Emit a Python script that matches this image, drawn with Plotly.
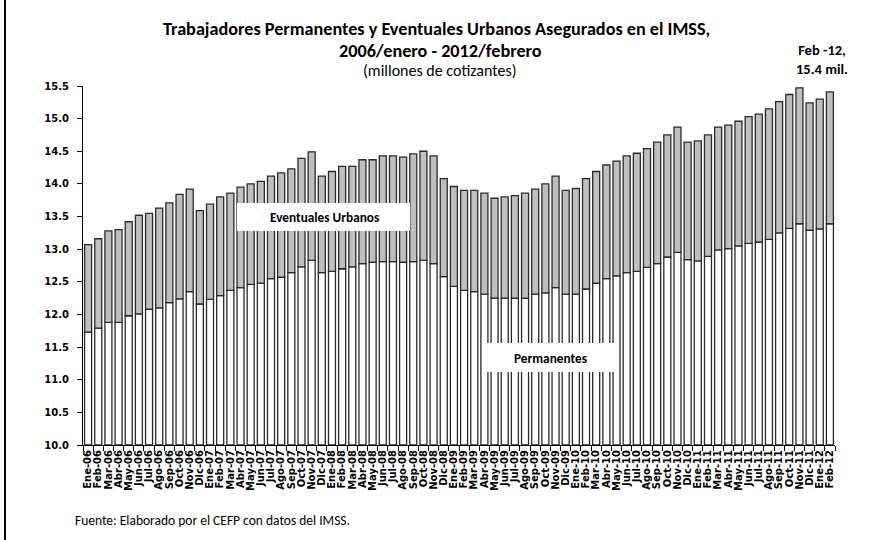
import plotly.graph_objects as go

months = ["Ene", "Feb", "Mar", "Abr", "May", "Jun", "Jul", "Ago", "Sep", "Oct", "Nov", "Dic"]
categories = []
for yr in range(6, 13):
    for m in months:
        categories.append(f"{m}-{yr:02d}")
categories = categories[:74]  # Ene-06 .. Feb-12

total = [13.07, 13.16, 13.28, 13.30, 13.42, 13.52, 13.55, 13.63, 13.71, 13.84, 13.92, 13.59,
         13.69, 13.80, 13.86, 13.95, 14.00, 14.04, 14.12, 14.17, 14.23, 14.39, 14.49, 14.12,
         14.19, 14.27, 14.27, 14.37, 14.37, 14.43, 14.43, 14.41, 14.46, 14.50, 14.43, 14.08,
         13.96, 13.90, 13.90, 13.86, 13.78, 13.80, 13.82, 13.86, 13.92, 14.00, 14.12, 13.90,
         13.93, 14.08, 14.19, 14.29, 14.35, 14.43, 14.47, 14.54, 14.64, 14.75, 14.87, 14.64,
         14.66, 14.75, 14.87, 14.90, 14.96, 15.03, 15.07, 15.15, 15.26, 15.37, 15.47, 15.24,
         15.30, 15.41]

permanentes = [11.73, 11.79, 11.88, 11.88, 11.98, 12.01, 12.08, 12.10, 12.18, 12.24, 12.35, 12.16,
               12.23, 12.29, 12.37, 12.41, 12.46, 12.48, 12.55, 12.57, 12.64, 12.73, 12.83, 12.64,
               12.66, 12.70, 12.73, 12.78, 12.80, 12.81, 12.81, 12.80, 12.81, 12.83, 12.78, 12.58,
               12.43, 12.37, 12.35, 12.31, 12.25, 12.25, 12.25, 12.25, 12.31, 12.33, 12.41, 12.31,
               12.31, 12.39, 12.48, 12.55, 12.59, 12.64, 12.66, 12.72, 12.78, 12.88, 12.95, 12.84,
               12.82, 12.89, 12.99, 13.01, 13.05, 13.09, 13.11, 13.15, 13.25, 13.32, 13.39, 13.29,
               13.31, 13.39]

eventuales = [round(t - p, 2) for t, p in zip(total, permanentes)]
base = 10.0
perm_height = [round(p - base, 2) for p in permanentes]

y_ticks = [10.0, 10.5, 11.0, 11.5, 12.0, 12.5, 13.0, 13.5, 14.0, 14.5, 15.0, 15.5]

FONT = "Carlito, Lato, Liberation Sans, Arial, sans-serif"
AXFONT = "DejaVu Sans, Verdana, sans-serif"

fig = go.Figure()
fig.add_trace(go.Bar(
    x=categories, y=perm_height, base=base, name="Permanentes",
    marker=dict(color="white", line=dict(color="#2a2a2a", width=1.3)),
    customdata=permanentes, hovertemplate="%{x}: %{customdata:.2f}<extra>Permanentes</extra>",
))
fig.add_trace(go.Bar(
    x=categories, y=eventuales, base=permanentes, name="Eventuales Urbanos",
    marker=dict(color="#BFBFBF", line=dict(color="#2a2a2a", width=1.3)),
    hovertemplate="%{x}: %{y:.2f}<extra>Eventuales</extra>",
))

L, R, T, B = 83, 37, 86, 95
W, H = 872, 540
pw, ph = W - L - R, H - T - B

def px(x):
    return (x - L) / pw

def py(y):
    return (H - B - y) / ph

annotations = [
    dict(x=px(436), y=py(29), text="<b>Trabajadores Permanentes y Eventuales Urbanos Asegurados en el IMSS,</b>",
         font=dict(size=18.2)),
    dict(x=px(440), y=py(51), text="<b>2006/enero - 2012/febrero</b>", font=dict(size=18.2)),
    dict(x=px(440), y=py(71), text="(millones de cotizantes)", font=dict(size=16)),
    dict(x=px(822), y=py(60), text="<b>Feb -12,<br>15.4 mil.</b>", font=dict(size=14.5)),
    dict(x=px(324), y=py(217), text="<b>Eventuales Urbanos</b>", font=dict(size=13.3)),
    dict(x=px(550), y=py(358), text="<b>Permanentes</b>", font=dict(size=13.3)),
    dict(x=px(73), y=py(520), text="Fuente: Elaborado por el CEFP con datos del IMSS.",
         font=dict(size=13.5), xanchor="left"),
]
for a in annotations:
    a.setdefault("xanchor", "center")
    a.update(xref="paper", yref="paper", yanchor="middle", showarrow=False)
    a["font"].update(family=FONT, color="black")

shapes = [
    dict(type="rect", xref="paper", yref="paper", x0=px(237), x1=px(410), y0=py(231), y1=py(203),
         fillcolor="white", line=dict(width=0), layer="above"),
    dict(type="rect", xref="paper", yref="paper", x0=px(485), x1=px(615), y0=py(372), y1=py(343),
         fillcolor="white", line=dict(width=0), layer="above"),
    dict(type="line", xref="paper", yref="paper", x0=px(5), x1=px(5), y0=py(0), y1=py(540),
         line=dict(color="black", width=2)),
]

fig.update_layout(
    width=W, height=H,
    margin=dict(l=L, r=R, t=T, b=B, autoexpand=False),
    barmode="overlay", bargap=0.31,
    plot_bgcolor="white", paper_bgcolor="white",
    showlegend=False,
    font=dict(family=FONT, color="black"),
    annotations=annotations, shapes=shapes,
    xaxis=dict(
        type="category", categoryorder="array", categoryarray=categories,
        tickmode="array", tickvals=categories, ticktext=categories,
        tickangle=-90, tickfont=dict(size=10, family=AXFONT, weight="bold"),
        ticks="outside", tickson="boundaries", ticklen=5, tickcolor="black",
        showline=True, linecolor="black", linewidth=1, showgrid=False,
        range=[-0.5, 73.5],
    ),
    yaxis=dict(
        range=[10, 15.5], tickvals=y_ticks, ticktext=[f"{v:.1f}" for v in y_ticks],
        tickfont=dict(size=10, family=AXFONT, weight="bold"),
        ticks="outside", ticklen=5, tickcolor="black", ticklabelstandoff=6,
        showline=True, linecolor="black", linewidth=1, showgrid=False, zeroline=False,
    ),
)

fig.write_html("out.html", config={"displayModeBar": False},
               post_script="document.body.style.margin='0px';")
